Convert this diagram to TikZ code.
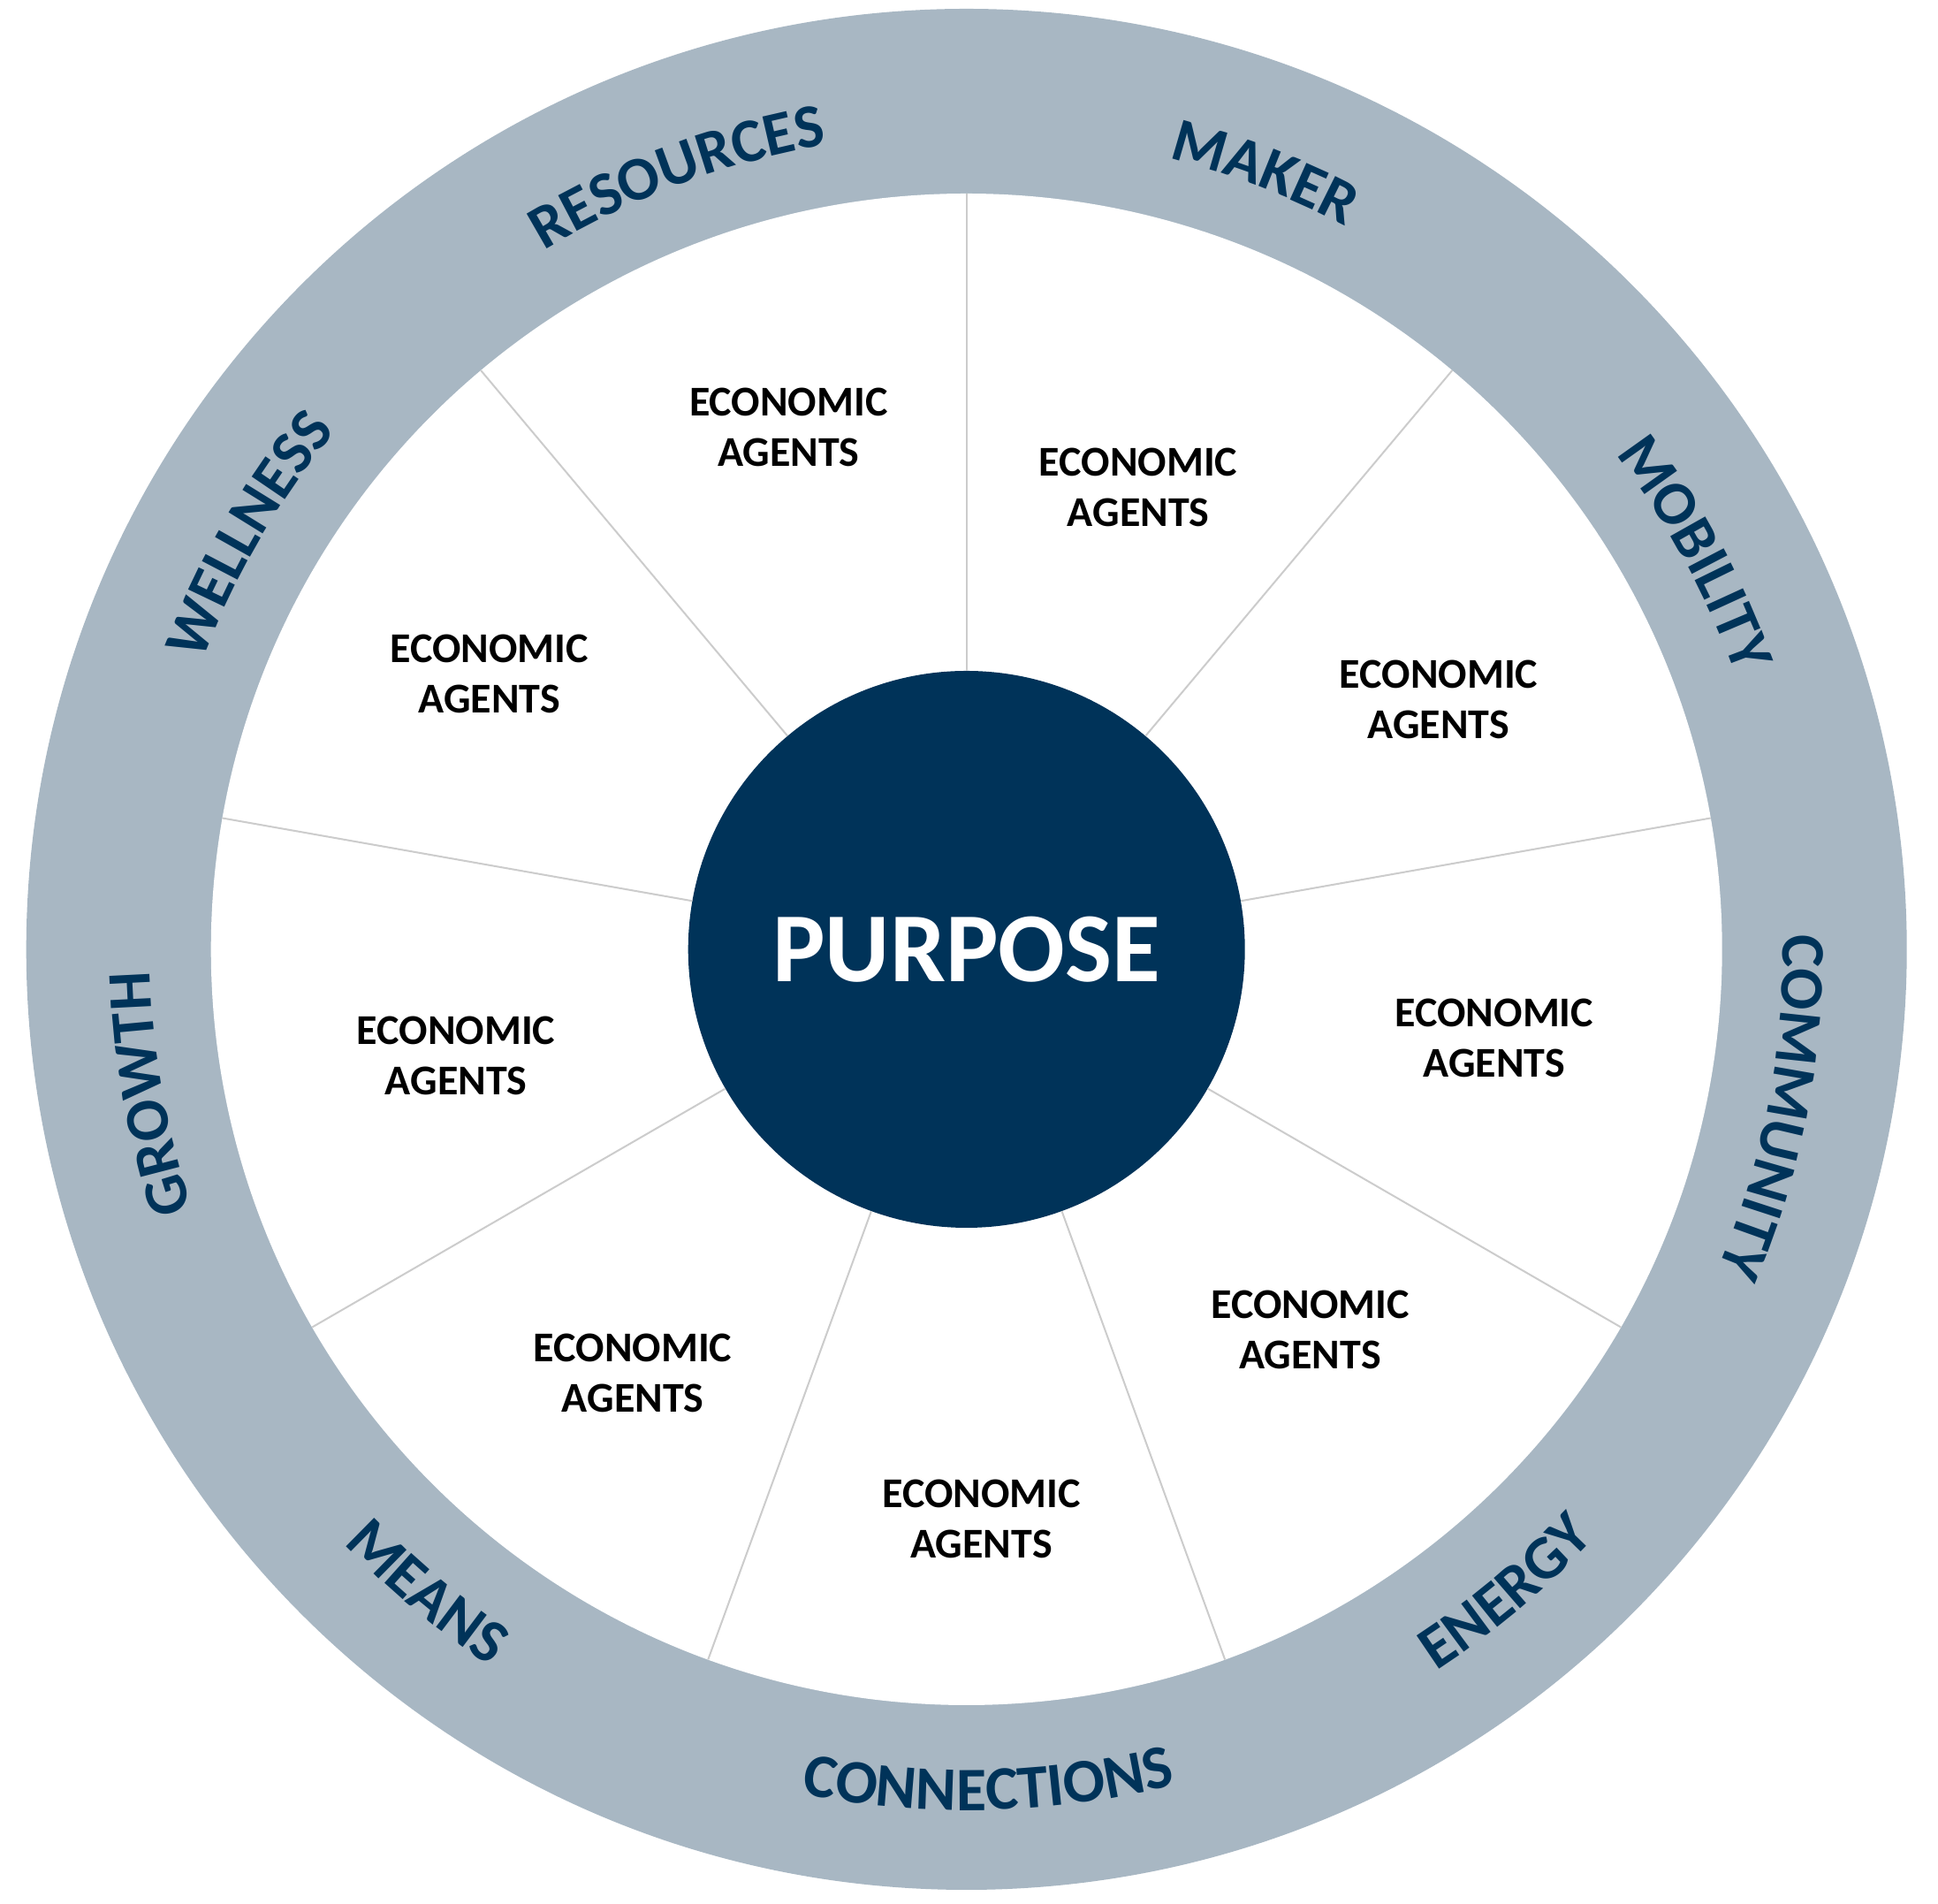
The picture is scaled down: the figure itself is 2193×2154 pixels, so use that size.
\documentclass[tikz,border=0pt]{standalone}
\usepackage{fontspec}
\setmainfont{Carlito}
\usetikzlibrary{decorations.text,calc}
\definecolor{ringc}{HTML}{A8B7C3}
\definecolor{navy}{HTML}{003359}
\definecolor{spokec}{HTML}{CCCCCC}
\tikzset{
  agent/.style={align=center, text=black, font=\fontsize{48}{57}\selectfont\bfseries, inner sep=0pt},
  spokeline/.style={draw=spokec, line width=2pt},
  ringlabel/.style={decorate, decoration={text along path, text align=center, text color=navy,
     text={|\fontsize{70}{70}\selectfont\bfseries|#1}}}
}
\newcommand{\upperlabel}[2]{%
  \path[ringlabel=#2, shift={(O)}] ({#1+30}:924) arc[start angle={#1+30}, end angle={#1-30}, radius=924];}
\newcommand{\lowerlabel}[2]{%
  \path[ringlabel=#2, shift={(O)}] ({#1-30}:974) arc[start angle={#1-30}, end angle={#1+30}, radius=974];}
\begin{document}
\begin{tikzpicture}[x=1pt,y=1pt]
\useasboundingbox (0,0) rectangle (2193,2154);
\coordinate (O) at (1093.7,1080);
\fill[ringc] (O) circle[radius=1064];
\fill[white] (O) circle[radius=855];
\foreach \a [count=\i] in {90,50,10,-30,-70,-110,-150,-190,-230} {
  \coordinate (s\i) at ($(O)+(\a:855)$);
}
\node[circle, fill=navy, minimum size=630pt, inner sep=0pt] (purpose) at (O) {};
\foreach \i in {1,...,9} { \draw[spokeline] (purpose) -- (s\i); }
\node[text=white, font=\fontsize{112}{112}\selectfont\bfseries, inner sep=0pt] (ptext) at (O) {PURPOSE};
% ring labels, upper (clockwise, tops outward)
\upperlabel{28.5}{MOBILITY}
\upperlabel{69}{MAKER}
\upperlabel{110.5}{RESOURCES}
\upperlabel{150}{WELLNESS}
\upperlabel{190}{GROWTH}
\upperlabel{-11}{COMMUNITY}
% ring labels, lower (counterclockwise, tops inward)
\lowerlabel{230}{MEANS}
\lowerlabel{271.5}{CONNECTIONS}
\lowerlabel{310}{ENERGY}
% economic agents
\node[agent] (a1) at (892.3,1670.1) {ECONOMIC\\AGENTS};
\node[agent] (a2) at (1288.1,1603.0) {ECONOMIC\\AGENTS};
\node[agent] (a3) at (1628.0,1362.4) {ECONOMIC\\AGENTS};
\node[agent] (a4) at (1690.9,979.2) {ECONOMIC\\AGENTS};
\node[agent] (a5) at (1482.5,649.1) {ECONOMIC\\AGENTS};
\node[agent] (a6) at (1110.5,435.1) {ECONOMIC\\AGENTS};
\node[agent] (a7) at (716.1,600.2) {ECONOMIC\\AGENTS};
\node[agent] (a8) at (516.1,959.6) {ECONOMIC\\AGENTS};
\node[agent] (a9) at (553.8,1391.8) {ECONOMIC\\AGENTS};
\end{tikzpicture}
\end{document}
